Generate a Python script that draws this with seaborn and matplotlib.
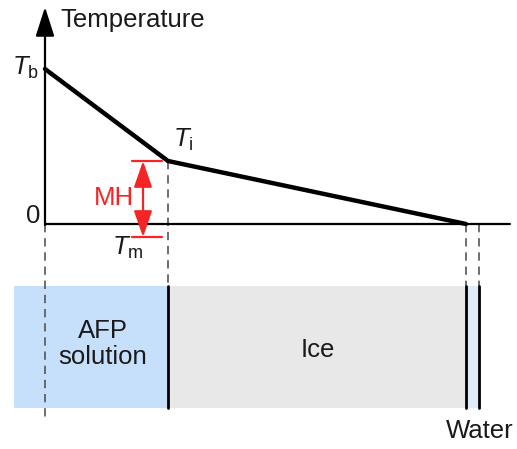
import numpy as np
import matplotlib
matplotlib.use("Agg")
import matplotlib.pyplot as plt
import pandas as pd
import seaborn as sns

# schematic units: x = distance from the substrate, y = temperature (0 = melting)
position = [0, 123, 421]
temperature = [155, 63, 0]
t_m = -13
labels_profile = ["b", "i", "0"]

# layers below the profile (start, end, colour)
layer_names = ["AFP\nsolution", "Ice", "Water"]
layer_start = [-31, 123, 421]
layer_end = [123, 421, 434]
layer_colors = ["#c6e0fb", "#e8e8e8", "#deebf8"]
layer_top, layer_bottom = -62, -184

sns.set_style("white")
plt.rcParams["font.family"] = ["Liberation Sans", "DejaVu Sans"]
plt.rcParams["mathtext.fontset"] = "custom"
plt.rcParams["mathtext.rm"] = "Liberation Sans"
plt.rcParams["mathtext.it"] = "Liberation Sans:italic"

fig = plt.figure(figsize=(5.17, 4.49), dpi=100)
ax = fig.add_axes([0, 0, 1, 1])
ax.set_xlim(-45, 472)
ax.set_ylim(-225, 224)
ax.axis("off")

fs = 18.5
txt = "#1a1a1a"
dash = dict(color="#555555", lw=1.2, ls=(0, (5, 3.5)))

# layers
for s, e, c in zip(layer_start, layer_end, layer_colors):
    ax.fill_between([s, e], layer_bottom, layer_top, color=c, lw=0, zorder=1)
for xx in layer_start[1:] + layer_end[-1:]:
    ax.plot([xx, xx], [layer_bottom, layer_top], color="black", lw=2, zorder=3)

ax.text(58, -120, layer_names[0], ha="center", va="center", fontsize=fs,
        linespacing=1.15, color=txt)
ax.text(273, -126, layer_names[1], ha="center", va="center", fontsize=fs, color=txt)
ax.text(435, -207, layer_names[2], ha="center", va="center", fontsize=fs, color=txt)

# dashed guides
ax.plot([0, 0], [0, -198], **dash, zorder=2)
ax.plot([position[1]] * 2, [temperature[1], layer_top], **dash, zorder=2)
ax.plot([position[2]] * 2, [0, layer_top], **dash, zorder=2)
ax.plot([layer_end[-1]] * 2, [0, layer_top], **dash, zorder=2)

# axes
ax.plot([0, 465], [0, 0], color="black", lw=1.6, zorder=4)
ax.annotate("", xy=(0, 217), xytext=(0, -1),
            arrowprops=dict(arrowstyle="-|>,head_length=1.5,head_width=0.48",
                            mutation_scale=12, color="black", lw=1.6,
                            shrinkA=0, shrinkB=0), zorder=4)
ax.text(15, 204, "Temperature", ha="left", va="center", fontsize=fs, color=txt)
ax.text(-5, 8, labels_profile[2], ha="right", va="center", fontsize=fs, color=txt)

# temperature profile
df = pd.DataFrame({"position": position, "temperature": temperature})
sns.lineplot(data=df, x="position", y="temperature", color="black", lw=3.2,
             ax=ax, zorder=5, sort=False)

ax.text(-33, 149, r"$\mathit{T}_{\mathrm{%s}}$" % labels_profile[0], ha="left",
        va="baseline", fontsize=fs, color=txt)
ax.text(128, 77, r"$\mathit{T}_{\mathrm{%s}}$" % labels_profile[1], ha="left",
        va="baseline", fontsize=fs, color=txt)
ax.text(67, -31, r"$\mathit{T}_{\mathrm{m}}$", ha="left", va="baseline",
        fontsize=fs, color=txt)

# MH marker
red = "#f52525"
for yy in [temperature[1], t_m]:
    ax.plot([87, 117], [yy, yy], color=red, lw=1.6, zorder=6)
ax.annotate("", xy=(98, temperature[1]), xytext=(98, t_m),
            arrowprops=dict(arrowstyle="<|-|>,head_length=1.15,head_width=0.4",
                            mutation_scale=14, color=red, lw=1.6,
                            shrinkA=0, shrinkB=0), zorder=6)
ax.text(69, 26, "MH", ha="center", va="center", fontsize=fs, color=red)

fig.savefig("out.png", dpi=100)
